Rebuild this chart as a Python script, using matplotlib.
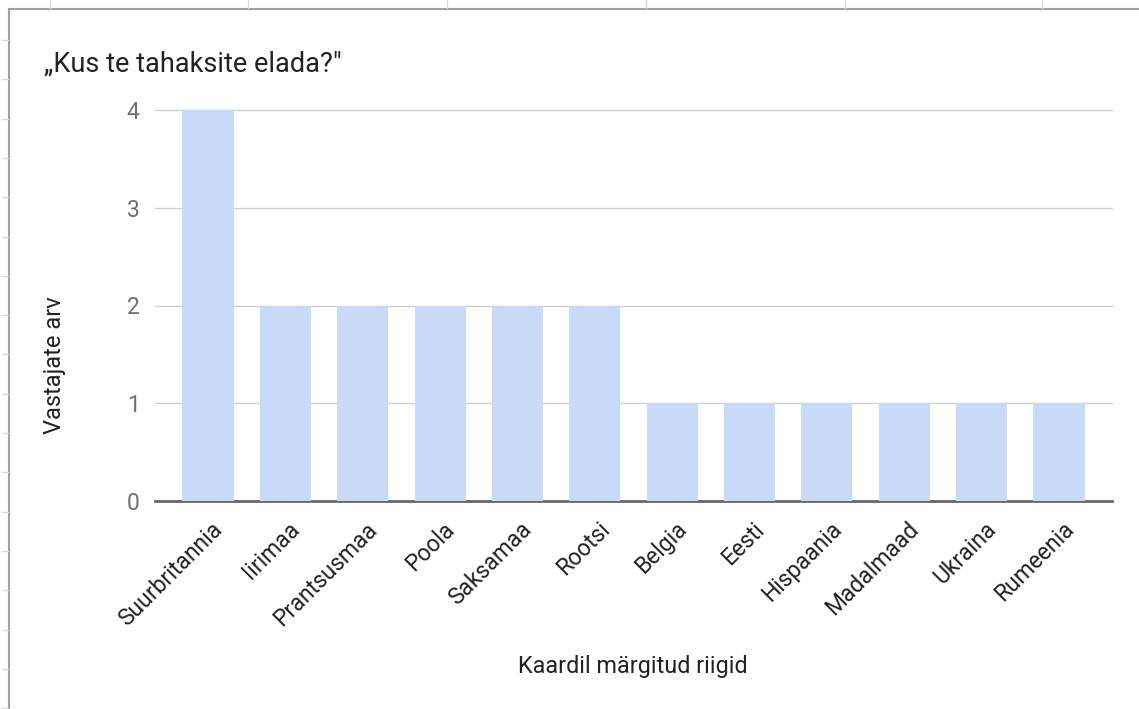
import matplotlib.pyplot as plt
from matplotlib.lines import Line2D
from matplotlib.transforms import ScaledTranslation

plt.rcParams['font.family'] = ['Roboto', 'DejaVu Sans']

# andmed
riigid = ["Suurbritannia", "Iirimaa", "Prantsusmaa", "Poola", "Saksamaa", "Rootsi",
          "Belgia", "Eesti", "Hispaania", "Madalmaad", "Ukraina", "Rumeenia"]
vastajad = [4, 2, 2, 2, 2, 2, 1, 1, 1, 1, 1, 1]
y_ticks = [0, 1, 2, 3, 4]

W, H = 1139, 709
fig = plt.figure(figsize=(W / 100, H / 100), dpi=100)

# teljestik (piksliasukohad pildilt)
ax = fig.add_axes([155 / W, 1 - 501 / H, (1112 - 155) / W, (501 - 110) / H])
x = list(range(len(riigid)))
ax.bar(x, vastajad, width=0.66, color="#c9daf8", zorder=3)
ax.set_xlim(-0.685, len(riigid) - 1 + 0.685)
ax.set_ylim(0, 4)

for v in y_ticks[1:]:
    ax.axhline(v, color="#d0d0d0", lw=1, zorder=1, clip_on=False)
ax.axhline(0, color="#666666", lw=2, zorder=2, clip_on=False)

for s in ax.spines.values():
    s.set_visible(False)

ax.set_yticks(y_ticks)
ax.tick_params(axis="y", length=0, pad=11, labelsize=16.5, labelcolor="#707070")
ax.set_xticks(x)
ax.set_xticklabels(riigid, rotation=45, ha="right", rotation_mode="anchor",
                   fontsize=16.5, color="#222222")
ax.tick_params(axis="x", length=0, pad=12)
nihe = ScaledTranslation(3 / 100, 0, fig.dpi_scale_trans)
for lbl in ax.get_xticklabels():
    lbl.set_transform(lbl.get_transform() + nihe)

fig.text(44 / W, 1 - 64 / H, "„Kus te tahaksite elada?\"", fontsize=19.5,
         color="#222222", ha="left", va="center")
fig.text(55 / W, 1 - 365 / H, "Vastajate arv", fontsize=17, color="#222222",
         rotation=90, ha="center", va="center")
fig.text(633 / W, 1 - 667 / H, "Kaardil märgitud riigid", fontsize=16.8,
         color="#222222", ha="center", va="center")

# ekraanipildi raam
raam = "#a0a0a0"
fig.add_artist(Line2D([9 / W, 9 / W], [0, 1 - 9 / H], transform=fig.transFigure,
                      color=raam, lw=1.5))
fig.add_artist(Line2D([9 / W, 1], [1 - 9 / H, 1 - 9 / H], transform=fig.transFigure,
                      color=raam, lw=1.5))
for tx in [50, 248, 447, 646, 845, 1042]:
    fig.add_artist(Line2D([tx / W, tx / W], [1 - 8 / H, 1], transform=fig.transFigure,
                          color="#d8d8d8", lw=1))
ty = 40
while ty < H:
    fig.add_artist(Line2D([2 / W, 8 / W], [1 - ty / H, 1 - ty / H],
                          transform=fig.transFigure, color="#d8d8d8", lw=1))
    ty += 39.3

fig.savefig("out.png", dpi=100)
